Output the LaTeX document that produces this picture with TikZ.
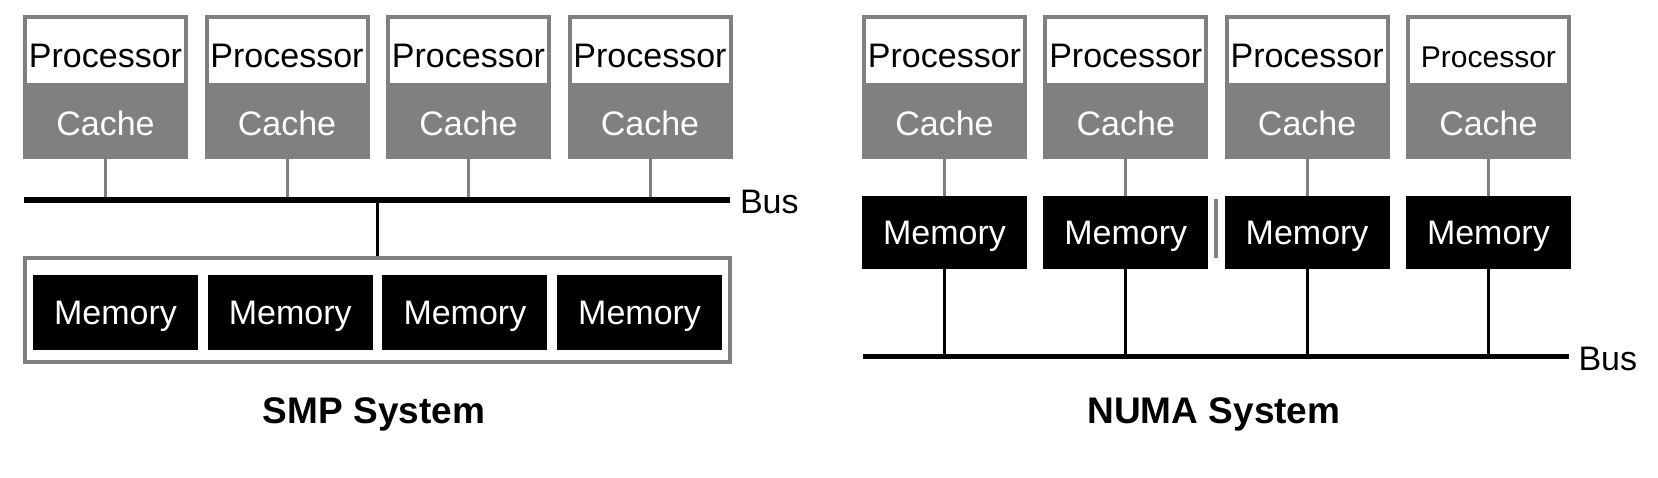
\documentclass[tikz,border=0pt]{standalone}
\usepackage{fontspec}
\setmainfont{Liberation Sans}
\definecolor{cachegray}{RGB}{128,128,128}
\usepackage{tikz}
\usetikzlibrary{positioning}

\tikzset{
  cpubox/.style={fill=cachegray,minimum width=165pt,minimum height=144pt,inner sep=0pt},
  proc/.style={fill=white,minimum width=157pt,minimum height=64pt,inner sep=0pt,
               text height=34pt,text depth=0pt},
  cachetxt/.style={text=white,inner sep=0pt,text height=24.5pt,text depth=0pt,
                   font=\fontsize{34}{34}\selectfont},
  mem/.style={fill=black,text=white,minimum width=165pt,inner sep=0pt,
              text height=24.5pt,text depth=0pt,font=\fontsize{34}{34}\selectfont},
  bus/.style={line width=6pt},
  glink/.style={draw=cachegray,line width=3pt},
  blink/.style={draw=black,line width=3pt},
  buslabel/.style={right=7pt,inner sep=0pt,yshift=-2pt,font=\fontsize{34}{34}\selectfont},
  systitle/.style={font=\fontsize{37}{37}\selectfont\bfseries},
}

\begin{document}
\begin{tikzpicture}[x=1pt,y=1pt]
  \useasboundingbox[fill=white] (0,0) rectangle (1658,478);

  % SMP system
  \coordinate (sbusL) at (24,278.3);
  \coordinate (sbusR) at (730,278.3);
  \foreach \i in {1,...,4} {
    \pgfmathsetmacro{\cx}{105.5+181.5*(\i-1)}
    \node[cpubox] (sbox\i) at (\cx,391) {};
    \node[proc,font=\fontsize{34}{34}\selectfont,below=4pt of sbox\i.north] (sproc\i) {Processor};
    \node[cachetxt] (scache\i) at (\cx,354.5) {Cache};
    \draw[glink] (sbox\i.south) -- (sbox\i.south |- sbusL);
  }
  \node[draw=cachegray,line width=4pt,minimum width=705pt,minimum height=104pt,
        inner sep=0pt] (smemall) at (377.5,168) {};
  \foreach \i in {1,...,4} {
    \pgfmathsetmacro{\mx}{115.5+174.7*(\i-1)}
    \node[mem,minimum height=75pt] (smem\i) at (\mx,165.5) {Memory};
  }
  \draw[blink] (smemall.north) -- (smemall.north |- sbusL);
  \draw[bus] (sbusL) -- (sbusR) node[buslabel] (sbus) {Bus};
  \node[systitle] (smptitle) at (374,64) {SMP System};

  % NUMA system
  \coordinate (nbusL) at (863,121.5);
  \coordinate (nbusR) at (1569,121.5);
  \foreach \i/\fs in {1/34,2/34,3/34,4/30} {
    \pgfmathsetmacro{\cx}{944.5+181.3*(\i-1)}
    \node[cpubox] (nbox\i) at (\cx,391) {};
    \node[proc,font=\fontsize{\fs}{\fs}\selectfont,below=4pt of nbox\i.north] (nproc\i) {Processor};
    \node[cachetxt] (ncache\i) at (\cx,354.5) {Cache};
    \node[mem,minimum height=73pt] (nmem\i) at (\cx,245.5) {Memory};
    \draw[glink] (nbox\i.south) -- (nmem\i.north);
    \draw[blink] (nmem\i.south) -- (nmem\i.south |- nbusL);
  }
  \draw[cachegray,line width=4pt] (1216,279) -- (1216,220);
  \draw[line width=5pt] (nbusL) -- (nbusR) node[buslabel] (nbus) {Bus};
  \node[systitle] (numatitle) at (1214,64) {NUMA System};
\end{tikzpicture}
\end{document}
